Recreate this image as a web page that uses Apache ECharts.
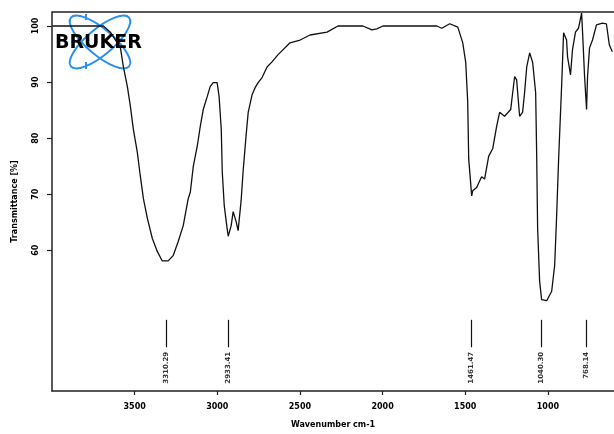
<!DOCTYPE html>
<html><head><meta charset="utf-8">
<script src="https://cdn.jsdelivr.net/npm/echarts@6/dist/echarts.min.js"></script>
<style>html,body{margin:0;padding:0;background:#fff}#c{width:614px;height:434px}</style>
</head><body><div id="c"></div>
<script>
const wavenumbers = [3997,3828,3689,3647,3586,3568,3544,3526,3508,3484,3466,3447,3423,3393,3363,3333,3297,3266,3236,3206,3176,3163,3145,3121,3103,3085,3061,3043,3025,3001,2989,2976,2970,2958,2946,2934,2916,2904,2886,2874,2856,2844,2826,2813,2789,2771,2753,2729,2699,2669,2632,2620,2560,2499,2439,2336,2270,2119,2065,2035,1998,1672,1642,1594,1545,1515,1497,1485,1479,1461,1455,1431,1401,1383,1358,1334,1310,1292,1262,1225,1213,1201,1189,1171,1153,1141,1128,1110,1092,1074,1068,1062,1050,1038,1007,977,959,947,935,917,905,887,881,863,851,833,815,796,790,778,766,760,748,730,706,670,646,628,610];
const transmittance = [100,100,100,98.9,96.1,92.7,89.2,85.7,81.6,77.5,73.3,69.2,65.7,62.1,59.8,58.1,58.1,59.1,61.6,64.4,69.2,70.4,75.0,78.6,82.1,85.1,87.4,89.2,89.9,89.9,87.4,81.6,74.0,68.0,65.1,62.5,64.4,66.9,65.1,63.5,68.8,74.0,80.4,84.6,87.8,89.0,89.9,90.8,92.7,93.6,94.9,95.2,97.0,97.5,98.4,98.9,100,100,99.3,99.5,100,100,99.6,100.4,99.8,97.0,93.5,86.4,76.3,69.7,70.6,71.2,73.1,72.7,76.8,78.1,82.1,84.6,83.9,85.1,88.1,91.0,90.4,83.9,84.6,88.1,92.7,95.2,93.5,88.1,77.5,63.9,54.5,51.2,51.0,52.7,57.3,66.2,76.3,89.2,98.8,97.5,94.5,91.3,95.8,98.9,99.6,102.3,98.8,91.0,85.1,91.0,96.1,97.5,100.2,100.5,100.4,96.6,95.4];
const peakPositions = [3310, 2933, 1461, 1040, 768];
const peakLabels = ["3310.29", "2933.41", "1461.47", "1040.30", "768.14"];
const xTicks = [3500, 3000, 2500, 2000, 1500, 1000];
const yTicks = [60, 70, 80, 90, 100];
const markerTop = 47.6, markerBottom = 42.7, labelAnchor = 41.9;

const chart = echarts.init(document.getElementById('c'), null, {renderer: 'canvas'});
const spectrum = wavenumbers.map((w, i) => [w, transmittance[i]]);
const fontFam = '"DejaVu Sans", sans-serif';
chart.setOption({
  animation: false,
  grid: {left: 52, top: 12, right: 0, bottom: 40},
  xAxis: {
    type: 'value', inverse: true, min: 600, max: 4000,
    name: 'Wavenumber cm-1', nameLocation: 'middle', nameGap: 30,
    nameTextStyle: {fontFamily: fontFam, fontWeight: 'bold', fontSize: 8, color: '#000'},
    axisLine: {show: true, lineStyle: {color: '#222', width: 1.5}},
    axisTick: {show: true, length: 4, customValues: xTicks, lineStyle: {color: '#222', width: 1.2}},
    axisLabel: {customValues: xTicks, margin: 12, formatter: v => String(v), fontFamily: fontFam, fontWeight: 'bold', fontSize: 8, color: '#000'},
    splitLine: {show: false}
  },
  yAxis: {
    type: 'value', min: 34.9, max: 102.5,
    name: 'Transmittance [%]', nameLocation: 'middle', nameGap: 33, nameRotate: 90,
    nameTextStyle: {fontFamily: fontFam, fontWeight: 'bold', fontSize: 8, color: '#000'},
    axisLine: {show: true, lineStyle: {color: '#222', width: 1.5}},
    axisTick: {show: true, length: 5, customValues: yTicks, lineStyle: {color: '#222', width: 1.2}},
    axisLabel: {customValues: yTicks, rotate: 90, margin: 12, formatter: v => String(v), fontFamily: fontFam, fontWeight: 'bold', fontSize: 8, color: '#000'},
    splitLine: {show: false}
  },
  graphic: [
    {type: 'line', shape: {x1: 52, y1: 12, x2: 614, y2: 12}, style: {stroke: '#222', lineWidth: 1.5}, z: 10},
    {type: 'ellipse', x: 100, y: 42, shape: {cx: 0, cy: 0, rx: 38, ry: 13}, rotation: Math.PI / 4.5, style: {fill: 'none', stroke: '#2a8ff0', lineWidth: 2}, z: 0},
    {type: 'ellipse', x: 100, y: 42, shape: {cx: 0, cy: 0, rx: 38, ry: 13}, rotation: -Math.PI / 4.5, style: {fill: 'none', stroke: '#2a8ff0', lineWidth: 2}, z: 0},
    {type: 'line', shape: {x1: 86, y1: 14, x2: 86, y2: 20}, style: {stroke: '#2a8ff0', lineWidth: 2}, z: 0},
    {type: 'line', shape: {x1: 86, y1: 62, x2: 86, y2: 69}, style: {stroke: '#2a8ff0', lineWidth: 2}, z: 0},
    {type: 'text', left: 55, top: 34, style: {text: 'BRUKER', font: 'bold 19px "DejaVu Sans"', fill: '#000'}, z: 1}
  ],
  series: [
    {
      type: 'line', data: spectrum, showSymbol: false, symbol: 'none', z: 5,
      lineStyle: {color: '#111', width: 1.3},
      markLine: {
        silent: true, symbol: 'none', animation: false,
        lineStyle: {color: '#111', width: 1.2, type: 'solid'},
        label: {show: false},
        data: peakPositions.map(p => [{coord: [p, markerTop]}, {coord: [p, markerBottom]}])
      }
    },
    {
      type: 'scatter', symbolSize: 0, silent: true,
      data: peakPositions.map((p, i) => ({value: [p, labelAnchor], name: peakLabels[i]})),
      label: {
        show: true, position: 'inside', rotate: 90, align: 'right', verticalAlign: 'middle',
        formatter: d => d.name, fontFamily: fontFam, fontWeight: 'bold', fontSize: 7, color: '#000'
      }
    }
  ]
});
</script></body></html>
